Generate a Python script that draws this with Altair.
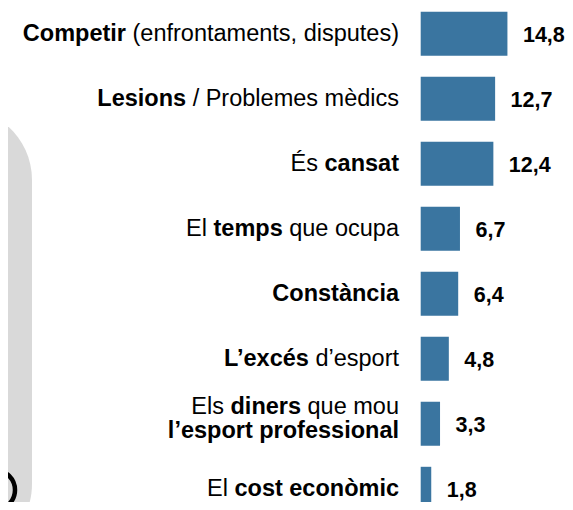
import altair as alt
import pandas as pd

# ---------------- data ----------------
categories = [
    "Competir (enfrontaments, disputes)",
    "Lesions / Problemes mèdics",
    "És cansat",
    "El temps que ocupa",
    "Constància",
    "L’excés d’esport",
    "Els diners que mou l’esport professional",
    "El cost econòmic",
]
values = [14.8, 12.7, 12.4, 6.7, 6.4, 4.8, 3.3, 1.8]
value_labels = ["14,8", "12,7", "12,4", "6,7", "6,4", "4,8", "3,3", "1,8"]

# label pieces per category: list of lines, each a list of (text, bold)
label_segments = [
    [[("Competir", True), (" (enfrontaments, disputes)", False)]],
    [[("Lesions", True), (" / Problemes mèdics", False)]],
    [[("És ", False), ("cansat", True)]],
    [[("El ", False), ("temps", True), (" que ocupa", False)]],
    [[("Constància", True)]],
    [[("L’excés", True), (" d’esport", False)]],
    [[("Els ", False), ("diners", True), (" que mou", False)],
     [("l’esport professional", True)]],
    [[("El ", False), ("cost econòmic", True)]],
]

# ---------------- layout constants ----------------
FONT = "Liberation Sans"
FS = 23.5
FS_VAL = 21.5
W, H = 557, 494
PXU = 5.86          # pixels per data unit on x
X0 = 412.7          # pixel position of x = 0
PXY = 65.0          # pixels between rows
Y0 = 25.8           # pixel centre of first row
LABEL_GAP = 21.7    # gap between label right edge and bar start
BAR_HALF = 22.0 / PXY

# Arial / Liberation Sans advance widths (per 1000 em)
REG = {' ': 278, '(': 333, ')': 333, ',': 278, '/': 278, '’': 222,
       'a': 556, 'b': 556, 'c': 500, 'd': 556, 'e': 556, 'f': 278, 'g': 556,
       'h': 556, 'i': 222, 'j': 222, 'k': 500, 'l': 222, 'm': 833, 'n': 556,
       'o': 556, 'p': 556, 'q': 556, 'r': 333, 's': 500, 't': 278, 'u': 556,
       'v': 500, 'w': 722, 'x': 500, 'y': 500, 'z': 500, 'è': 556, 'é': 556,
       'à': 556, 'ò': 556, 'E': 667, 'É': 667, 'L': 556, 'C': 722, 'P': 667}
BOLD = {' ': 278, '’': 278, ',': 278,
        'a': 556, 'b': 611, 'c': 556, 'd': 611, 'e': 556, 'f': 333, 'g': 611,
        'h': 611, 'i': 278, 'j': 278, 'k': 556, 'l': 278, 'm': 889, 'n': 611,
        'o': 611, 'p': 611, 'q': 611, 'r': 389, 's': 556, 't': 333, 'u': 611,
        'v': 556, 'w': 778, 'x': 556, 'y': 556, 'z': 500, 'à': 556, 'é': 556,
        'ò': 611, 'C': 722, 'L': 611, 'E': 667}


def text_width(t, bold):
    table = BOLD if bold else REG
    return sum(table.get(ch, 556) for ch in t) * FS / 1000.0


# build label segment table
rows = []
for i, lines in enumerate(label_segments):
    if len(lines) == 1:
        offsets = [7.5]
    else:
        offsets = [-9.5, 14.5]
    for line, off in zip(lines, offsets):
        after = 0.0
        for text, bold in reversed(line):
            trailing = text[len(text.rstrip()):]
            tw = text_width(trailing, bold)
            right_px = LABEL_GAP + after + tw
            rows.append({
                "txt": text.strip(),
                "bold": bold,
                "lx": -right_px / PXU,
                "ly": i + off / PXY,
            })
            after += text_width(text, bold)
labels_df = pd.DataFrame(rows)

bars_df = pd.DataFrame({
    "cat": categories,
    "value": values,
    "vlabel": value_labels,
    "idx": list(range(len(categories))),
})
bars_df["start"] = 0.0
bars_df["y0"] = bars_df["idx"] - BAR_HALF
bars_df["y1"] = bars_df["idx"] + BAR_HALF
bars_df["vy"] = bars_df["idx"] + 8.0 / PXY

xs = alt.Scale(domain=[-X0 / PXU, (W - X0) / PXU], nice=False, zero=False)
ys = alt.Scale(domain=[-Y0 / PXY, (H - Y0) / PXY], nice=False, zero=False,
               reverse=True)

# ---------------- decorations ----------------
one = pd.DataFrame({"a": [0]})
panel = alt.Chart(one).mark_rect(color="#d9d9d9", cornerRadius=72).encode(
    x=alt.value(-200), x2=alt.value(24), y=alt.value(100), y2=alt.value(548)
)
ring = alt.Chart(one).mark_point(
    shape="circle", filled=False, stroke="black", strokeWidth=4.5,
    size=1600, opacity=1
).encode(x=alt.value(-13), y=alt.value(482))

# ---------------- bars & labels ----------------
bars = alt.Chart(bars_df).mark_rect(color="#3a75a0").encode(
    x=alt.X("start:Q", scale=xs, axis=None),
    x2="value:Q",
    y=alt.Y("y0:Q", scale=ys, axis=None),
    y2="y1:Q",
)

vals = alt.Chart(bars_df).mark_text(
    align="left", baseline="alphabetic", dx=15.5, font=FONT, fontSize=FS_VAL,
    fontWeight="bold", color="black"
).encode(
    x=alt.X("value:Q", scale=xs, axis=None),
    y=alt.Y("vy:Q", scale=ys, axis=None),
    text="vlabel:N",
)

lab_bold = alt.Chart(labels_df[labels_df["bold"]]).mark_text(
    align="right", baseline="alphabetic", font=FONT, fontSize=FS,
    fontWeight="bold", color="black"
).encode(
    x=alt.X("lx:Q", scale=xs, axis=None),
    y=alt.Y("ly:Q", scale=ys, axis=None),
    text="txt:N",
)
lab_norm = alt.Chart(labels_df[~labels_df["bold"]]).mark_text(
    align="right", baseline="alphabetic", font=FONT, fontSize=FS,
    fontWeight="normal", color="black"
).encode(
    x=alt.X("lx:Q", scale=xs, axis=None),
    y=alt.Y("ly:Q", scale=ys, axis=None),
    text="txt:N",
)

chart = alt.layer(panel, ring, bars, vals, lab_bold, lab_norm).properties(
    width=W, height=H, padding=0,
    autosize=alt.AutoSizeParams(type="none"),
).configure_view(stroke=None)

chart.save("out.html", embed_options={"renderer": "svg", "actions": False})
